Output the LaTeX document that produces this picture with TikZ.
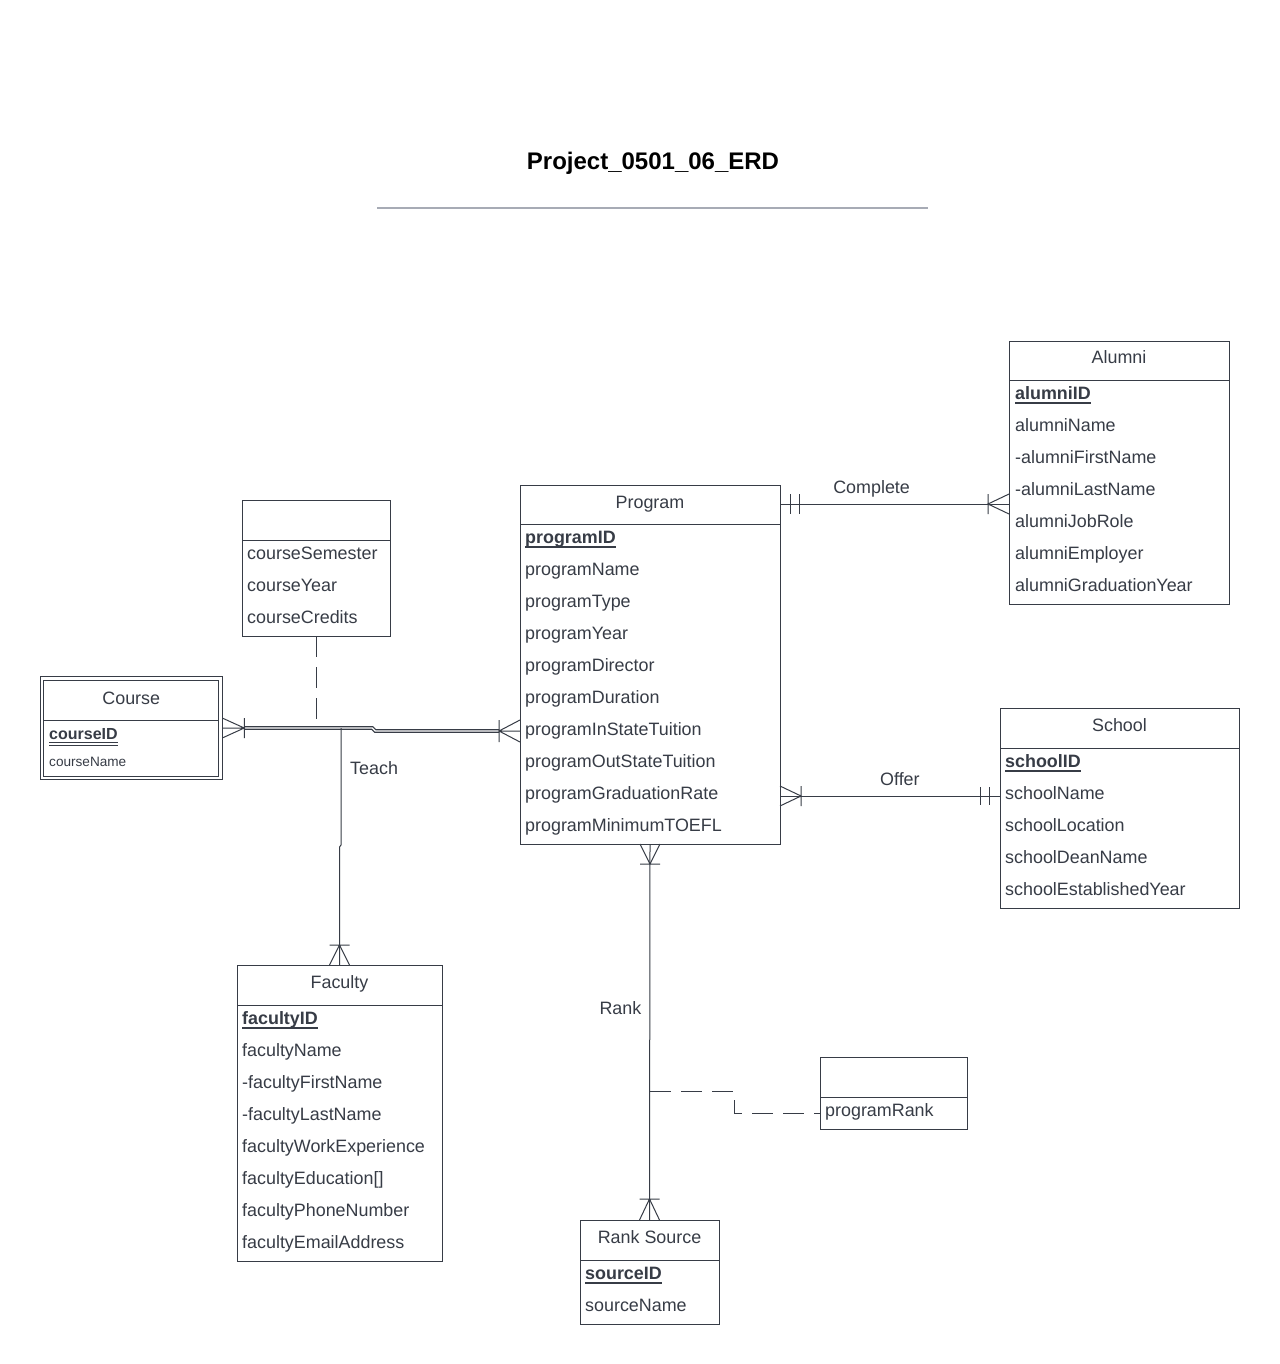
\documentclass[tikz,border=0pt]{standalone}
\usepackage{fontspec}
\setmainfont{Liberation Sans}
\usetikzlibrary{calc,positioning}
\definecolor{ink}{RGB}{55,60,70}
\definecolor{rulegray}{RGB}{167,171,181}
\newcommand{\erdfont}{\fontsize{17.9}{21}\selectfont}

\begin{document}
\begin{tikzpicture}
      [x=1pt, y=-1pt,
        line/.style={draw=ink, line width=1pt},
        dbl/.style={draw=ink, line width=1.1pt, double=white, double distance=1.4pt},
        linkline/.style={draw=ink, line width=1pt, dash pattern=on 21pt off 10pt},
        entity/.style={
          rectangle,
          draw=ink, line width=1pt,
          anchor=north west,
          inner sep=0pt, outer sep=0pt
        },
        head/.style={text=ink, font=\erdfont, inner sep=0pt, text height=13pt, text depth=4pt},
        attr/.style={head, anchor=west},
        key/.style={attr, font=\erdfont\bfseries},
        lbl/.style={head},
        uline/.style={draw=ink, line width=1.3pt}
      ]
      \fill[white] (0,0) rectangle (1279,1364);
      \useasboundingbox (0,0) rectangle (1279,1364);

      % title
      \node[font=\fontsize{24}{28}\selectfont\bfseries, inner sep=0pt] (title) at (653,163) {Project\_0501\_06\_ERD};
      \draw[draw=rulegray, line width=2pt] (377,208) -- (928,208);

      % Program
      \node[entity, minimum width=260pt, minimum height=359pt] (program) at (520,485) {};
      \draw[line] ($(program.north west)+(0,39)$) -- ($(program.north east)+(0,39)$);
      \node[head] (program-h) at ($(program.north)+(0,19)$) {Program};
      \node[key] (program-1) at ($(program.north west)+(5,54)$) {programID};
      \foreach \t [count=\i from 2] in {programName, programType, programYear, programDirector, programDuration,
          programInStateTuition, programOutStateTuition, programGraduationRate, programMinimumTOEFL}
        \node[attr] (program-\i) at ($(program.north west)+(5,{54+32*(\i-1)})$) {\t};

      % Alumni
      \node[entity, minimum width=220pt, minimum height=263pt] (alumni) at (1009,341) {};
      \draw[line] ($(alumni.north west)+(0,39)$) -- ($(alumni.north east)+(0,39)$);
      \node[head] (alumni-h) at ($(alumni.north)+(0,18)$) {Alumni};
      \node[key] (alumni-1) at ($(alumni.north west)+(6,54)$) {alumniID};
      \foreach \t [count=\i from 2] in {alumniName, -alumniFirstName, -alumniLastName, alumniJobRole,
          alumniEmployer, alumniGraduationYear}
        \node[attr] (alumni-\i) at ($(alumni.north west)+(6,{54+32*(\i-1)})$) {\t};

      % School
      \node[entity, minimum width=239pt, minimum height=200pt] (school) at (1000,708) {};
      \draw[line] ($(school.north west)+(0,40)$) -- ($(school.north east)+(0,40)$);
      \node[head] (school-h) at ($(school.north)+(0,19)$) {School};
      \node[key] (school-1) at ($(school.north west)+(5,55)$) {schoolID};
      \foreach \t [count=\i from 2] in {schoolName, schoolLocation, schoolDeanName, schoolEstablishedYear}
        \node[attr] (school-\i) at ($(school.north west)+(5,{55+32*(\i-1)})$) {\t};

      % Faculty
      \node[entity, minimum width=205pt, minimum height=296pt] (faculty) at (237,965) {};
      \draw[line] ($(faculty.north west)+(0,40)$) -- ($(faculty.north east)+(0,40)$);
      \node[head] (faculty-h) at ($(faculty.north)+(0,19)$) {Faculty};
      \node[key] (faculty-1) at ($(faculty.north west)+(5,55)$) {facultyID};
      \foreach \t [count=\i from 2] in {facultyName, -facultyFirstName, -facultyLastName, facultyWorkExperience,
          {facultyEducation[]}, facultyPhoneNumber, facultyEmailAddress}
        \node[attr] (faculty-\i) at ($(faculty.north west)+(5,{55+32*(\i-1)})$) {\t};

      % Course (weak entity) and its link attributes
      \node[entity, double=white, double distance=2.5pt, minimum width=178.5pt, minimum height=99.5pt] (course) at (42,678.5) {};
      \draw[line] ($(course.north west)+(1.75,41.5)$) -- ($(course.north east)+(-1.75,41.5)$);
      \node[head] (course-h) at ($(course.north)+(0,21)$) {Course};
      \node[key, font=\fontsize{16}{19}\selectfont\bfseries] (course-1) at ($(course.north west)+(7,56.5)$) {courseID};
      \node[attr, font=\fontsize{13.6}{16}\selectfont] (course-2) at ($(course.north west)+(7,83)$) {courseName};

      \node[entity, minimum width=148pt, minimum height=136pt] (assoc) at (242,500) {};
      \draw[line] ($(assoc.north west)+(0,40)$) -- ($(assoc.north east)+(0,40)$);
      \foreach \t [count=\i] in {courseSemester, courseYear, courseCredits}
        \node[attr] (assoc-\i) at ($(assoc.north west)+(5,{55+32*(\i-1)})$) {\t};

      % Rank Source and rank attribute
      \node[entity, minimum width=139pt, minimum height=104pt] (rsrc) at (580,1220) {};
      \draw[line] ($(rsrc.north west)+(0,40)$) -- ($(rsrc.north east)+(0,40)$);
      \node[head] (rsrc-h) at ($(rsrc.north)+(0,19)$) {Rank Source};
      \node[key] (rsrc-1) at ($(rsrc.north west)+(5,55)$) {sourceID};
      \node[attr] (rsrc-2) at ($(rsrc.north west)+(5,87)$) {sourceName};

      \node[entity, minimum width=147pt, minimum height=72pt] (prank) at (820,1057) {};
      \draw[line] ($(prank.north west)+(0,40)$) -- ($(prank.north east)+(0,40)$);
      \node[attr] (prank-1) at ($(prank.north west)+(5,55)$) {programRank};

      % key underlines
      \foreach \k in {program-1, alumni-1, school-1, faculty-1, rsrc-1}
        \draw[uline] ([yshift=-3.5pt]\k.base west) -- ([yshift=-3.5pt]\k.base east);
      \draw[line] ([yshift=-3pt]course-1.base west) -- ([yshift=-3pt]course-1.base east);
      \draw[line] ([yshift=-5.5pt]course-1.base west) -- ([yshift=-5.5pt]course-1.base east);

      % Complete
      \coordinate (cmp-l) at ($(program.north east)+(0,19)$);
      \coordinate (cmp-r) at (alumni.west |- cmp-l);
      \draw[line] (cmp-l) -- (cmp-r) node[lbl, pos=0.4, above=6.5pt] (complete) {Complete};
      \draw[line] ([xshift=10pt]cmp-l) ++(0,-10) -- ++(0,20) ([xshift=19pt]cmp-l) ++(0,-10) -- ++(0,20);
      \draw[line] ($(cmp-r)+(0,-10)$) -- ([xshift=-21pt]cmp-r) -- ($(cmp-r)+(0,10)$)
        ([xshift=-21pt]cmp-r) ++(0,-10) -- ++(0,20);

      % Offer
      \coordinate (off-l) at ($(program.north east)+(0,311)$);
      \coordinate (off-r) at (school.west |- off-l);
      \draw[line] (off-l) -- (off-r) node[lbl, pos=0.545, above=6.5pt] (offer) {Offer};
      \draw[line] ($(off-l)+(0,-10)$) -- ([xshift=21pt]off-l) -- ($(off-l)+(0,10)$)
        ([xshift=21pt]off-l) ++(0,-10) -- ++(0,20);
      \draw[line] ([xshift=-20pt]off-r) ++(0,-9) -- ++(0,18) ([xshift=-11pt]off-r) ++(0,-9) -- ++(0,18);

      % Teach
      \coordinate (teach-l) at ($(course.north east)+(1.75,49.5)$);
      \coordinate (teach-r) at ($(program.north west)+(0,246)$);
      \draw[dbl] ([xshift=22pt]teach-l) -- ++(128,0) -- ++(3,3) -- ([xshift=-21pt]teach-r);
      \draw[line] ($(teach-l)+(0,-10)$) -- ([xshift=22pt]teach-l) -- ($(teach-l)+(0,10)$)
        (teach-l) -- ([xshift=22pt]teach-l) ++(0,-10) -- ++(0,20);
      \draw[line] ($(teach-r)+(0,-11)$) -- ([xshift=-21pt]teach-r) -- ($(teach-r)+(0,11)$)
        (teach-r) -- ([xshift=-21pt]teach-r) ++(0,-11) -- ++(0,22);
      \coordinate (teach-m) at ($(faculty.north |- teach-l)+(1.5,0)$);
      \draw[line] (teach-m) -- ++(0,117) -- ++(-1.5,2) -- (faculty.north);
      \node[lbl, anchor=west] (teach) at ($(teach-m)+(9,42)$) {Teach};
      \draw[line] ($(faculty.north)+(-10,0)$) -- ([yshift=20pt]faculty.north) -- ($(faculty.north)+(10,0)$)
        ([yshift=20pt]faculty.north) ++(-10,0) -- ++(20,0);
      \draw[linkline] (assoc.south) -- (assoc.south |- teach-l);

      % Rank
      \draw[line] (program.south) -- (rsrc.north) node[lbl, pos=0.441, left=8pt] (rank) {Rank};
      \draw[line] ($(program.south)+(-10,0)$) -- ([yshift=-20pt]program.south) -- ($(program.south)+(10,0)$)
        ([yshift=-20pt]program.south) ++(-10,0) -- ++(20,0);
      \draw[line] ($(rsrc.north)+(-10,0)$) -- ([yshift=21pt]rsrc.north) -- ($(rsrc.north)+(10,0)$)
        ([yshift=21pt]rsrc.north) ++(-10,0) -- ++(20,0);
      \coordinate (rank-m) at ($(program.south)+(0,247)$);
      \coordinate (prank-l) at ($(prank.north west)+(0,56)$);
      \draw[linkline] (rank-m) -- ++(84,0) |- (prank-l);
\end{tikzpicture}
\end{document}
